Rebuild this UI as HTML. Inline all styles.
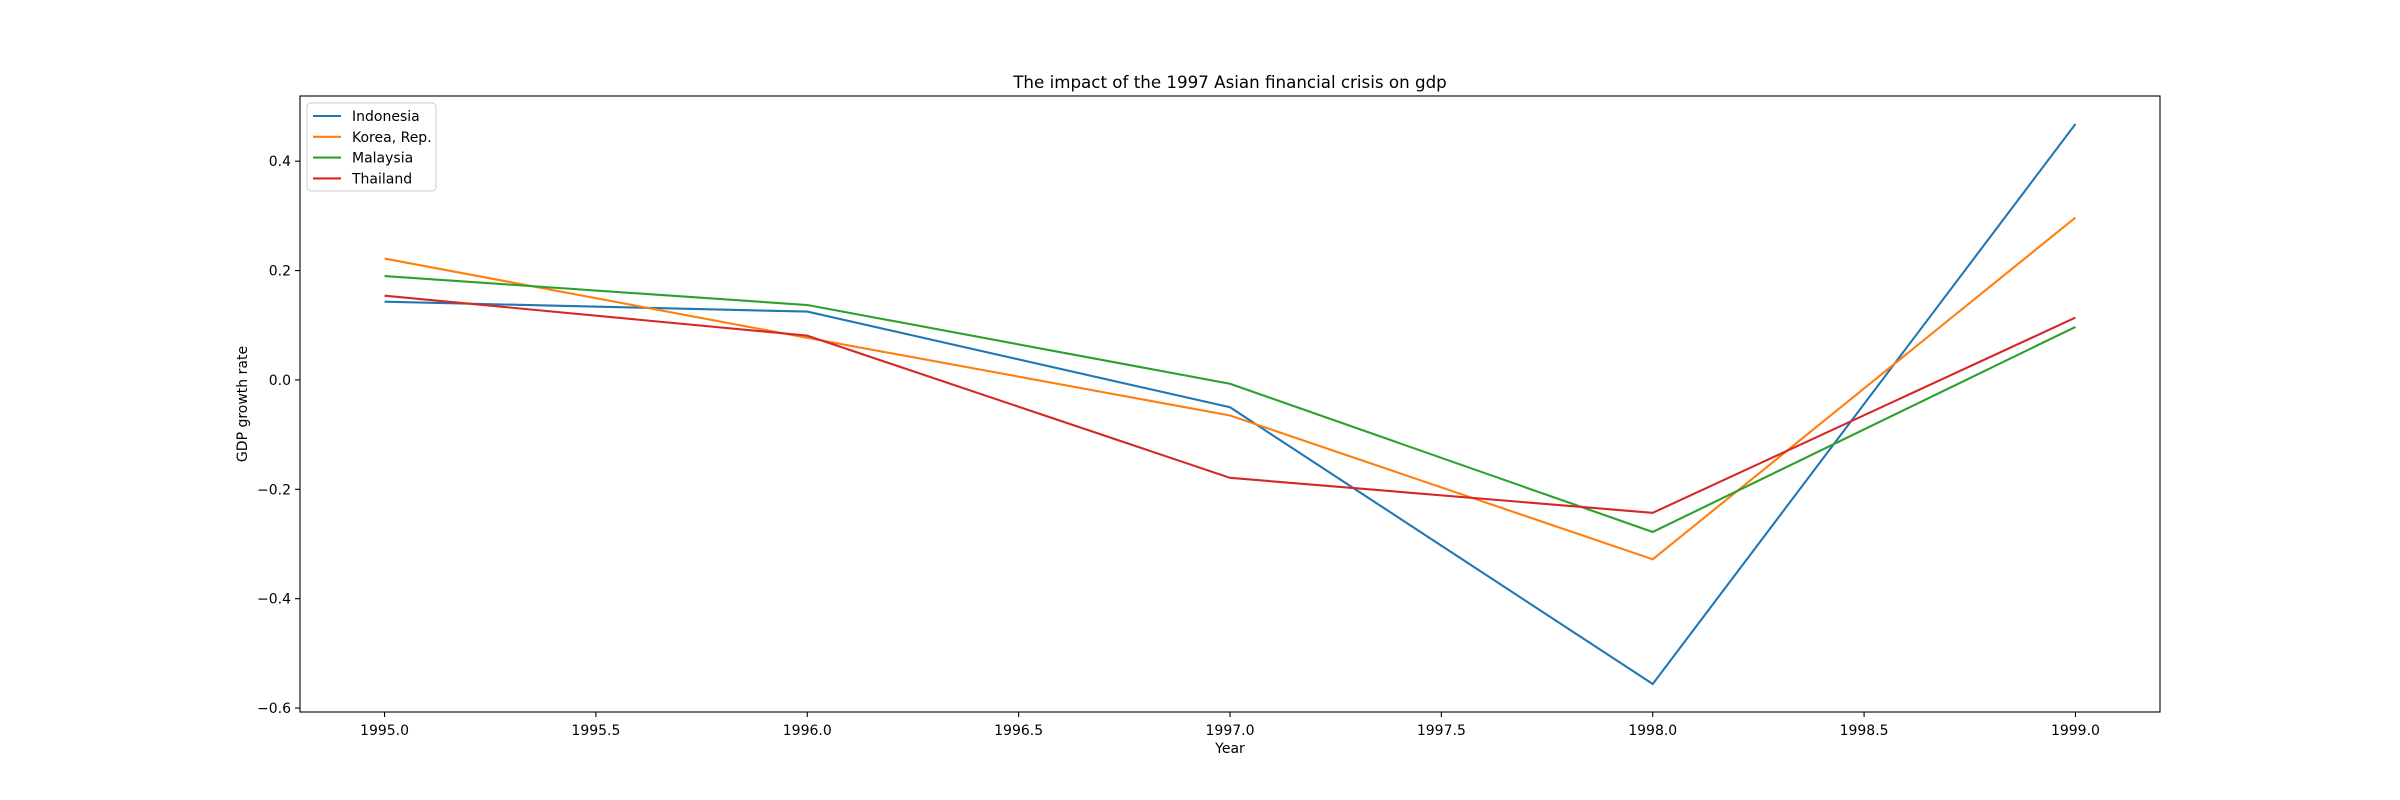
<!DOCTYPE html>
<html><head><meta charset="utf-8"><style>
html,body{margin:0;padding:0;background:#fff;}
svg{display:block;font-family:"DejaVu Sans","Liberation Sans",sans-serif;}
</style></head><body>
<svg id="chart" width="2400" height="800" xmlns="http://www.w3.org/2000/svg"></svg>
<script>
const years = [1995, 1996, 1997, 1998, 1999];
const seriesNames = ["Indonesia", "Korea, Rep.", "Malaysia", "Thailand"];
const indonesia = [0.143, 0.125, -0.050, -0.556, 0.468];
const korea = [0.222, 0.077, -0.065, -0.328, 0.297];
const malaysia = [0.190, 0.137, -0.007, -0.278, 0.097];
const thailand = [0.154, 0.081, -0.179, -0.243, 0.114];
const xTicks = [1995.0, 1995.5, 1996.0, 1996.5, 1997.0, 1997.5, 1998.0, 1998.5, 1999.0];
const yTicks = [-0.6, -0.4, -0.2, 0.0, 0.2, 0.4];

const NS = "http://www.w3.org/2000/svg";
const svg = document.getElementById('chart');
const L = 300, R = 2160, T = 96, B = 712;
const allY = indonesia.concat(korea, malaysia, thailand);
const yMinD = Math.min(...allY), yMaxD = Math.max(...allY);
const yPad = (yMaxD - yMinD) * 0.05;
const yMin = yMinD - yPad, yMax = yMaxD + yPad;
const xMinD = Math.min(...years), xMaxD = Math.max(...years);
const xPad = (xMaxD - xMinD) * 0.05;
const xMin = xMinD - xPad, xMax = xMaxD + xPad;
const sx = v => L + (v - xMin) / (xMax - xMin) * (R - L);
const sy = v => B - (v - yMin) / (yMax - yMin) * (B - T);
function mk(tag, attrs, parent) {
  const e = document.createElementNS(NS, tag);
  for (const k in attrs) e.setAttribute(k, attrs[k]);
  (parent || svg).appendChild(e);
  return e;
}
const colors = ["#1f77b4", "#ff7f0e", "#2ca02c", "#d62728"];
const data = [indonesia, korea, malaysia, thailand];

// lines
data.forEach((vals, i) => {
  const p = mk('polyline', {points: vals.map((v, j) => sx(years[j]) + ',' + sy(v)).join(' '), fill: 'none', stroke: colors[i], 'stroke-width': 2.1});
  
  
});

// frame
const fr = mk('rect', {x: L, y: T, width: R - L, height: B - T, fill: 'none', stroke: '#000', 'stroke-width': 1.1});



// x ticks
xTicks.forEach(t => {
  const x = sx(t);
  mk('line', {x1: x, x2: x, y1: B, y2: B + 5, stroke: '#000', 'stroke-width': 1.1});
  const tx = mk('text', {x: x, y: B + 23, 'text-anchor': 'middle', 'font-size': 14});
  tx.textContent = t.toFixed(1);
  
  
});
// y ticks
yTicks.forEach(t => {
  const y = sy(t);
  mk('line', {x1: L - 5, x2: L, y1: y, y2: y, stroke: '#000', 'stroke-width': 1.1});
  const tx = mk('text', {x: L - 9, y: y + 5, 'text-anchor': 'end', 'font-size': 14});
  tx.textContent = (t < 0 ? '\u2212' : '') + Math.abs(t).toFixed(1);
  
  
});

const title = mk('text', {x: (L + R) / 2, y: 88, 'text-anchor': 'middle', 'font-size': 16.7});
title.textContent = 'The impact of the 1997 Asian financial crisis on gdp';



const xl = mk('text', {x: (L + R) / 2, y: 753, 'text-anchor': 'middle', 'font-size': 14});
xl.textContent = 'Year';



const yl = mk('text', {x: 0, y: 0, 'text-anchor': 'middle', 'font-size': 14, transform: 'translate(247,' + ((T + B) / 2) + ') rotate(-90)'});
yl.textContent = 'GDP growth rate';



// legend
const lg = mk('g', {});


mk('rect', {x: 307, y: 103, width: 129, height: 88, rx: 4, fill: '#fff', 'fill-opacity': 0.8, stroke: '#ccc', 'stroke-width': 1}, lg);
seriesNames.forEach((n, i) => {
  const y = 116 + i * 20.8;
  const g = mk('g', {}, lg);
  
  
  mk('line', {x1: 313, x2: 341, y1: y, y2: y, stroke: colors[i], 'stroke-width': 2.1}, g);
  const t = mk('text', {x: 352, y: y + 5, 'font-size': 14}, g);
  t.textContent = n;
});
</script>
</body></html>
